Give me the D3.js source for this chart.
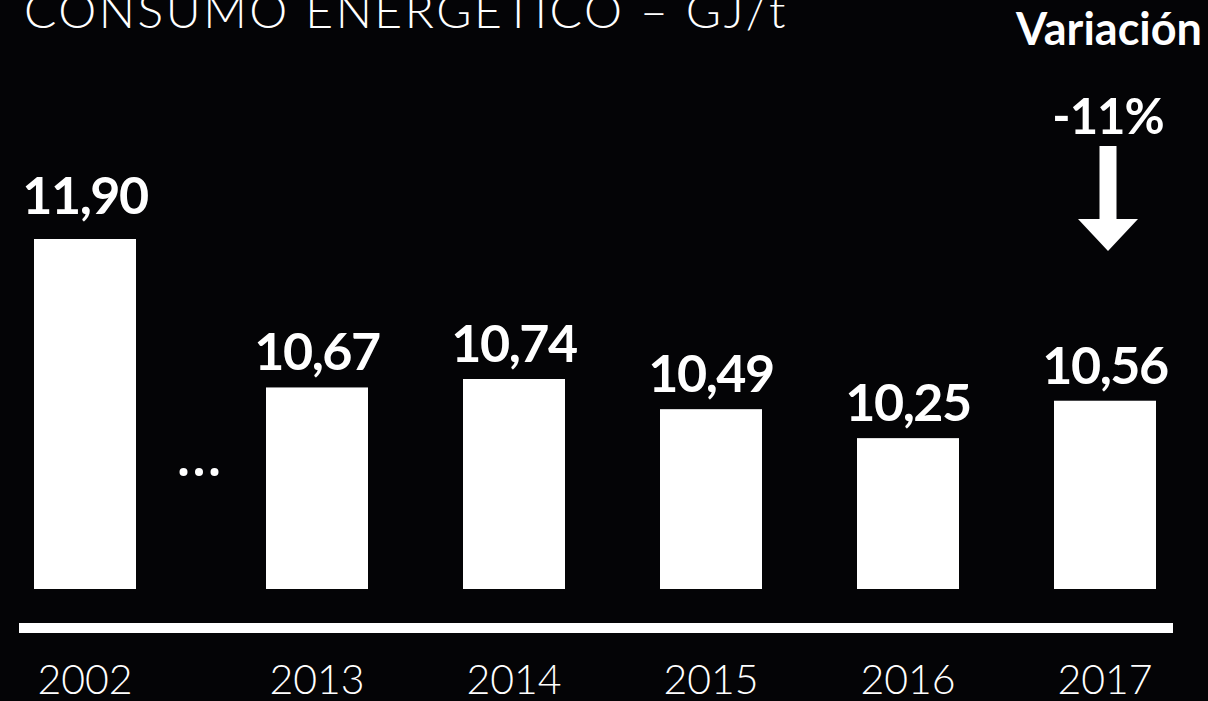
<!DOCTYPE html>
<html>
<head>
<meta charset="utf-8">
<script src="https://cdn.jsdelivr.net/npm/d3@7"></script>
<style>
  html, body { margin: 0; padding: 0; background: #040406; }
  svg { display: block; }
</style>
</head>
<body>
<svg id="chart" width="1208" height="701"></svg>
<script>
// Energy consumption per tonne, GJ/t
const years = ["2002", "2013", "2014", "2015", "2016", "2017"];
const values = [11.90, 10.67, 10.74, 10.49, 10.25, 10.56];
const valueLabels = ["11,90", "10,67", "10,74", "10,49", "10,25", "10,56"];
const title = "CONSUMO ENERGÉTICO – GJ/t";
const changeTitle = "Variación";
const changeLabel = "-11%";

const W = 1208, H = 701;
const svg = d3.select("#chart");
svg.append("rect").attr("width", W).attr("height", H).attr("fill", "#040406");

const baseY = 589;
const barW = 102;
const breakGap = 35; // extra space after the first year (time jump)

// Evenly spaced slots for the recent years, first year set apart by a break
const xPos = d3.scaleLinear().domain([1, years.length - 1]).range([317, 1105]);
const step = xPos(2) - xPos(1);
const x = i => i === 0 ? xPos(1) - step - breakGap : xPos(i);

const y = d3.scaleLinear().domain([9, 11.9]).range([baseY, 239]);

const data = years.map((yr, i) => ({ yr, v: values[i], lbl: valueLabels[i], i }));

// Bars
svg.selectAll("rect.bar").data(data).join("rect")
  .attr("class", "bar")
  .attr("x", d => x(d.i) - barW / 2)
  .attr("y", d => y(d.v))
  .attr("width", barW)
  .attr("height", d => baseY - y(d.v))
  .attr("fill", "#ffffff");

// Value labels
svg.selectAll("text.val").data(data).join("text")
  .attr("class", "val")
  .attr("x", d => x(d.i))
  .attr("y", d => y(d.v) - (d.i === 0 ? 25 : 17))
  .attr("text-anchor", "middle")
  .attr("fill", "#fff")
  .style("font-family", "Lato, sans-serif")
  .style("font-weight", 700)
  .style("font-size", "52px")
  .style("letter-spacing", "-1.5px")
  .text(d => d.lbl);

// Ellipsis marking the skipped years
const midGap = (x(0) + x(1)) / 2;
svg.selectAll("circle.dot").data([-1, 0, 1]).join("circle")
  .attr("cx", d => midGap - 2 + d * 15.5)
  .attr("cy", 472)
  .attr("r", 4)
  .attr("fill", "#fff");

// Axis line
svg.append("rect")
  .attr("x", 19).attr("y", 623)
  .attr("width", 1154).attr("height", 10)
  .attr("fill", "#fff");

// Year labels
svg.selectAll("text.yr").data(data).join("text")
  .attr("class", "yr")
  .attr("x", d => x(d.i))
  .attr("y", 694)
  .attr("text-anchor", "middle")
  .attr("fill", "#fff")
  .style("font-family", "Lato, sans-serif")
  .style("font-weight", 300)
  .style("font-size", "41px")
  .text(d => d.yr);

// Title
svg.append("text")
  .attr("x", 24).attr("y", 28)
  .attr("fill", "#fff")
  .style("font-family", "Lato, sans-serif")
  .style("font-weight", 300)
  .style("font-size", "48px")
  .style("letter-spacing", "2.5px")
  .text(title);

// Change indicator
svg.append("text")
  .attr("x", 1202).attr("y", 45)
  .attr("text-anchor", "end")
  .attr("fill", "#fff")
  .style("font-family", "Lato, sans-serif")
  .style("font-weight", 700)
  .style("font-size", "45px")
  .text(changeTitle);

svg.append("text")
  .attr("x", 1108).attr("y", 134)
  .attr("text-anchor", "middle")
  .attr("fill", "#fff")
  .style("font-family", "Lato, sans-serif")
  .style("font-weight", 700)
  .style("font-size", "49px")
  .style("letter-spacing", "-1px")
  .text(changeLabel);

// Down arrow
const ax = 1108;
svg.append("path")
  .attr("d", `M${ax - 8.5},146 L${ax + 8.5},146 L${ax + 8.5},219 L${ax + 30},219 L${ax},251 L${ax - 30},219 L${ax - 8.5},219 Z`)
  .attr("fill", "#fff");
</script>
</body>
</html>
